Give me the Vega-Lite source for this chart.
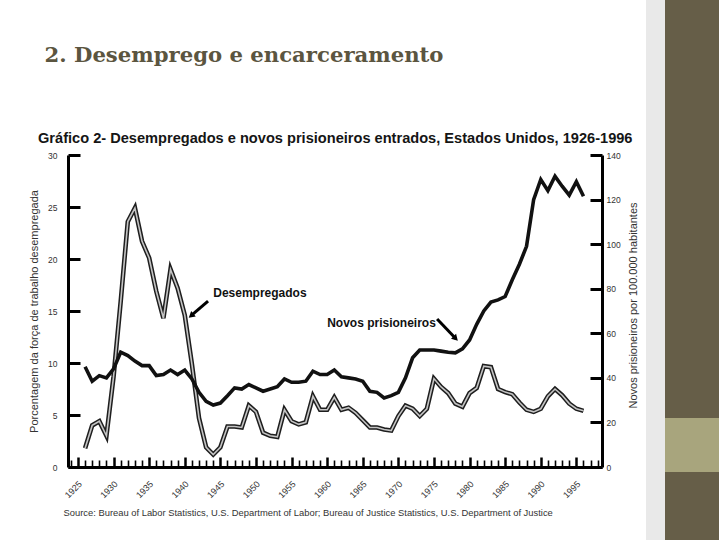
{
  "$schema": "https://vega.github.io/schema/vega-lite/v6.json",
  "background": "white",
  "padding": {"left": 28, "top": 0, "right": 0, "bottom": 0},
  "config": {"view": {"stroke": null}},
  "datasets": {
    "series": [
      {"year": 1926, "u": 1.8, "p": 45},
      {"year": 1927, "u": 4.0, "p": 38.5},
      {"year": 1928, "u": 4.4, "p": 41},
      {"year": 1929, "u": 3.0, "p": 40},
      {"year": 1930, "u": 8.7, "p": 44},
      {"year": 1931, "u": 15.9, "p": 51.5},
      {"year": 1932, "u": 23.6, "p": 50},
      {"year": 1933, "u": 24.9, "p": 47.5},
      {"year": 1934, "u": 21.7, "p": 45.5},
      {"year": 1935, "u": 20.1, "p": 45.5},
      {"year": 1936, "u": 16.9, "p": 41},
      {"year": 1937, "u": 14.3, "p": 41.5},
      {"year": 1938, "u": 19.0, "p": 43.5},
      {"year": 1939, "u": 17.2, "p": 41.5},
      {"year": 1940, "u": 14.6, "p": 43.5},
      {"year": 1941, "u": 9.9, "p": 39.5},
      {"year": 1942, "u": 4.7, "p": 33.5},
      {"year": 1943, "u": 1.9, "p": 29.5},
      {"year": 1944, "u": 1.2, "p": 27.8},
      {"year": 1945, "u": 1.9, "p": 28.7},
      {"year": 1946, "u": 3.9, "p": 32},
      {"year": 1947, "u": 3.9, "p": 35.5},
      {"year": 1948, "u": 3.8, "p": 35},
      {"year": 1949, "u": 5.9, "p": 37},
      {"year": 1950, "u": 5.3, "p": 35.5},
      {"year": 1951, "u": 3.3, "p": 34},
      {"year": 1952, "u": 3.0, "p": 35},
      {"year": 1953, "u": 2.9, "p": 36},
      {"year": 1954, "u": 5.5, "p": 39.5},
      {"year": 1955, "u": 4.4, "p": 38},
      {"year": 1956, "u": 4.1, "p": 38},
      {"year": 1957, "u": 4.3, "p": 38.5},
      {"year": 1958, "u": 6.8, "p": 43},
      {"year": 1959, "u": 5.5, "p": 41.5},
      {"year": 1960, "u": 5.5, "p": 41.5},
      {"year": 1961, "u": 6.7, "p": 43.5},
      {"year": 1962, "u": 5.5, "p": 40.5},
      {"year": 1963, "u": 5.7, "p": 40},
      {"year": 1964, "u": 5.2, "p": 39.5},
      {"year": 1965, "u": 4.5, "p": 38.5},
      {"year": 1966, "u": 3.8, "p": 34},
      {"year": 1967, "u": 3.8, "p": 33.5},
      {"year": 1968, "u": 3.6, "p": 31},
      {"year": 1969, "u": 3.5, "p": 32},
      {"year": 1970, "u": 4.9, "p": 33.5},
      {"year": 1971, "u": 5.9, "p": 40},
      {"year": 1972, "u": 5.6, "p": 49},
      {"year": 1973, "u": 4.9, "p": 52.5},
      {"year": 1974, "u": 5.6, "p": 52.5},
      {"year": 1975, "u": 8.5, "p": 52.5},
      {"year": 1976, "u": 7.7, "p": 52},
      {"year": 1977, "u": 7.1, "p": 51.5},
      {"year": 1978, "u": 6.1, "p": 51.2},
      {"year": 1979, "u": 5.8, "p": 53},
      {"year": 1980, "u": 7.1, "p": 57},
      {"year": 1981, "u": 7.6, "p": 64},
      {"year": 1982, "u": 9.7, "p": 70},
      {"year": 1983, "u": 9.6, "p": 74},
      {"year": 1984, "u": 7.5, "p": 75},
      {"year": 1985, "u": 7.2, "p": 76.5},
      {"year": 1986, "u": 7.0, "p": 84},
      {"year": 1987, "u": 6.2, "p": 91},
      {"year": 1988, "u": 5.5, "p": 99},
      {"year": 1989, "u": 5.3, "p": 120},
      {"year": 1990, "u": 5.6, "p": 129},
      {"year": 1991, "u": 6.8, "p": 124},
      {"year": 1992, "u": 7.5, "p": 130.5},
      {"year": 1993, "u": 6.9, "p": 126},
      {"year": 1994, "u": 6.1, "p": 122},
      {"year": 1995, "u": 5.6, "p": 128},
      {"year": 1996, "u": 5.4, "p": 121.5}
    ],
    "slide_title": [{"text": "2. Desemprego e encarceramento"}],
    "label_u": [{"label": "Desempregados", "year": 1944.0, "value": 16.7}],
    "arrow_u": [{"year": 1943.27, "value": 15.96, "year_end": 1940.89, "value_end": 14.55}],
    "head_u": [{"year": 1940.89, "value": 14.55}],
    "label_p": [{"label": "Novos prisioneiros", "year": 1960.0, "value": 64.6}],
    "arrow_p": [{"year": 1975.44, "value": 66.4, "year_end": 1978.05, "value_end": 57.65}],
    "head_p": [{"year": 1978.05, "value": 57.65}]
  },
  "spacing": 8,
  "hconcat": [
    {
      "spacing": 19,
      "vconcat": [
        {
          "width": 352,
          "height": 112,
          "data": {"name": "slide_title"},
          "mark": {"type": "text", "font": "DejaVu Serif", "fontSize": 21.2, "fontWeight": "bold", "color": "#5b5540", "align": "center", "baseline": "middle"},
          "encoding": {"text": {"field": "text"}}
        },
        {
          "title": {
            "text": "Gráfico 2- Desempregados e novos prisioneiros entrados, Estados Unidos, 1926-1996",
            "anchor": "start",
            "frame": "bounds",
            "font": "Liberation Sans",
            "fontSize": 14.6,
            "fontWeight": "bold",
            "color": "#151515",
            "offset": 5,
            "dx": 10
          },
          "width": 534,
          "height": 312,
          "layer": [
            {
              "layer": [
                {
                  "data": {"name": "series"},
                  "mark": {"type": "line", "color": "#1e1e1e", "strokeWidth": 4.6},
                  "encoding": {
                    "x": {
                      "field": "year",
                      "type": "quantitative",
                      "scale": {"domain": [1923.6, 1998.6], "nice": false, "zero": false},
                      "axis": {
                        "orient": "bottom",
                        "values": [1924,1926,1927,1928,1929,1931,1932,1933,1934,1936,1937,1938,1939,1941,1942,1943,1944,1946,1947,1948,1949,1951,1952,1953,1954,1956,1957,1958,1959,1961,1962,1963,1964,1966,1967,1968,1969,1971,1972,1973,1974,1976,1977,1978,1979,1981,1982,1983,1984,1986,1987,1988,1989,1991,1992,1993,1994,1996,1997,1998],
                        "tickCount": 500,
                        "labels": false,
                        "tickSize": -7,
                        "tickWidth": 1.6,
                        "tickColor": "#000000",
                        "domainColor": "#000000",
                        "domainWidth": 3,
                        "grid": false,
                        "title": "Source: Bureau of Labor Statistics, U.S. Department of Labor; Bureau of Justice Statistics, U.S. Department of Justice",
                        "titleFont": "Liberation Sans",
                        "titleFontSize": 9.4,
                        "titleFontWeight": "normal",
                        "titleColor": "#333333",
                        "titleAlign": "left",
                        "titleAnchor": "start",
                        "titleBaseline": "middle",
                        "titleX": -5,
                        "titleY": 45
                      }
                    },
                    "y": {
                      "field": "u",
                      "type": "quantitative",
                      "scale": {"domain": [0, 30], "nice": false},
                      "axis": {
                        "orient": "left",
                        "values": [0, 5, 10, 15, 20, 25, 30],
                        "format": "d",
                        "labelFont": "Liberation Sans",
                        "labelFontSize": 8.5,
                        "labelColor": "#333333",
                        "labelPadding": 23,
                        "labelOverlap": false,
                        "tickSize": -12,
                        "tickWidth": 3,
                        "tickColor": "#000000",
                        "domainColor": "#000000",
                        "domainWidth": 3,
                        "grid": false,
                        "title": "Porcentagem da força de trabalho desempregada",
                        "titleFont": "Liberation Sans",
                        "titleFontSize": 11,
                        "titleFontWeight": "normal",
                        "titleColor": "#333333",
                        "titleAngle": -90,
                        "titleAlign": "center",
                        "titleBaseline": "middle",
                        "titleX": -34,
                        "titleY": 156
                      }
                    }
                  }
                },
                {
                  "data": {"name": "series"},
                  "mark": {"type": "line", "color": "#c4c4c4", "strokeWidth": 1.6},
                  "encoding": {
                    "x": {"field": "year", "type": "quantitative"},
                    "y": {"field": "u", "type": "quantitative"}
                  }
                },
                {
                  "data": {"name": "label_u"},
                  "mark": {"type": "text", "font": "Liberation Sans", "fontSize": 12, "fontWeight": "bold", "color": "#111111", "align": "left", "baseline": "middle"},
                  "encoding": {
                    "x": {"field": "year", "type": "quantitative"},
                    "y": {"field": "value", "type": "quantitative"},
                    "text": {"field": "label"}
                  }
                },
                {
                  "data": {"name": "arrow_u"},
                  "mark": {"type": "rule", "color": "#000000", "strokeWidth": 3},
                  "encoding": {
                    "x": {"field": "year", "type": "quantitative"},
                    "x2": {"field": "year_end"},
                    "y": {"field": "value", "type": "quantitative"},
                    "y2": {"field": "value_end"}
                  }
                },
                {
                  "data": {"name": "head_u"},
                  "mark": {"type": "point", "shape": "triangle-up", "filled": true, "color": "#000000", "opacity": 1, "size": 50, "angle": 230},
                  "encoding": {
                    "x": {"field": "year", "type": "quantitative"},
                    "y": {"field": "value", "type": "quantitative"}
                  }
                }
              ]
            },
            {
              "layer": [
                {
                  "data": {"name": "series"},
                  "mark": {"type": "line", "color": "#111111", "strokeWidth": 3.6},
                  "encoding": {
                    "x": {
                      "field": "year",
                      "type": "quantitative",
                      "axis": {
                        "orient": "bottom",
                        "values": [1925, 1930, 1935, 1940, 1945, 1950, 1955, 1960, 1965, 1970, 1975, 1980, 1985, 1990, 1995],
                        "tickCount": 500,
                        "format": "d",
                        "labelOverlap": false,
                        "labelAngle": -45,
                        "labelAlign": "right",
                        "labelBaseline": "middle",
                        "labelFont": "Liberation Sans",
                        "labelFontSize": 9,
                        "labelColor": "#333333",
                        "labelPadding": 25,
                        "labelOffset": 2,
                        "tickSize": -10,
                        "tickWidth": 2.5,
                        "tickColor": "#000000",
                        "domain": false,
                        "grid": false,
                        "title": null
                      }
                    },
                    "y": {
                      "field": "p",
                      "type": "quantitative",
                      "scale": {"domain": [0, 140], "nice": false},
                      "axis": {
                        "orient": "right",
                        "values": [0, 20, 40, 60, 80, 100, 120, 140],
                        "format": "d",
                        "labelFont": "Liberation Sans",
                        "labelFontSize": 8.5,
                        "labelColor": "#333333",
                        "labelPadding": 16,
                        "labelOverlap": false,
                        "tickSize": -12,
                        "tickWidth": 3,
                        "tickColor": "#000000",
                        "domainColor": "#000000",
                        "domainWidth": 3,
                        "grid": false,
                        "title": "Novos prisioneiros por 100.000 habitantes",
                        "titleFont": "Liberation Sans",
                        "titleFontSize": 11,
                        "titleFontWeight": "normal",
                        "titleColor": "#333333",
                        "titleAngle": -90,
                        "titleAlign": "center",
                        "titleBaseline": "middle",
                        "titleX": 31,
                        "titleY": 150
                      }
                    }
                  }
                },
                {
                  "data": {"name": "label_p"},
                  "mark": {"type": "text", "font": "Liberation Sans", "fontSize": 12, "fontWeight": "bold", "color": "#111111", "align": "left", "baseline": "middle"},
                  "encoding": {
                    "x": {"field": "year", "type": "quantitative"},
                    "y": {"field": "value", "type": "quantitative"},
                    "text": {"field": "label"}
                  }
                },
                {
                  "data": {"name": "arrow_p"},
                  "mark": {"type": "rule", "color": "#000000", "strokeWidth": 3},
                  "encoding": {
                    "x": {"field": "year", "type": "quantitative"},
                    "x2": {"field": "year_end"},
                    "y": {"field": "value", "type": "quantitative"},
                    "y2": {"field": "value_end"}
                  }
                },
                {
                  "data": {"name": "head_p"},
                  "mark": {"type": "point", "shape": "triangle-up", "filled": true, "color": "#000000", "opacity": 1, "size": 50, "angle": 136},
                  "encoding": {
                    "x": {"field": "year", "type": "quantitative"},
                    "y": {"field": "value", "type": "quantitative"}
                  }
                }
              ]
            }
          ],
          "resolve": {"scale": {"y": "independent"}, "axis": {"x": "independent"}}
        }
      ]
    },
    {
      "spacing": 0,
      "hconcat": [
        {
          "width": 19,
          "height": 540,
          "data": {"values": [{}]},
          "mark": {"type": "rect", "color": "#e9e9e9"},
          "encoding": {}
        },
        {
          "spacing": 0,
          "vconcat": [
            {"width": 54, "height": 418, "data": {"values": [{}]}, "mark": {"type": "rect", "color": "#665e48"}, "encoding": {}},
            {"width": 54, "height": 54, "data": {"values": [{}]}, "mark": {"type": "rect", "color": "#a8a57d"}, "encoding": {}},
            {"width": 54, "height": 68, "data": {"values": [{}]}, "mark": {"type": "rect", "color": "#665e48"}, "encoding": {}}
          ]
        }
      ]
    }
  ]
}
